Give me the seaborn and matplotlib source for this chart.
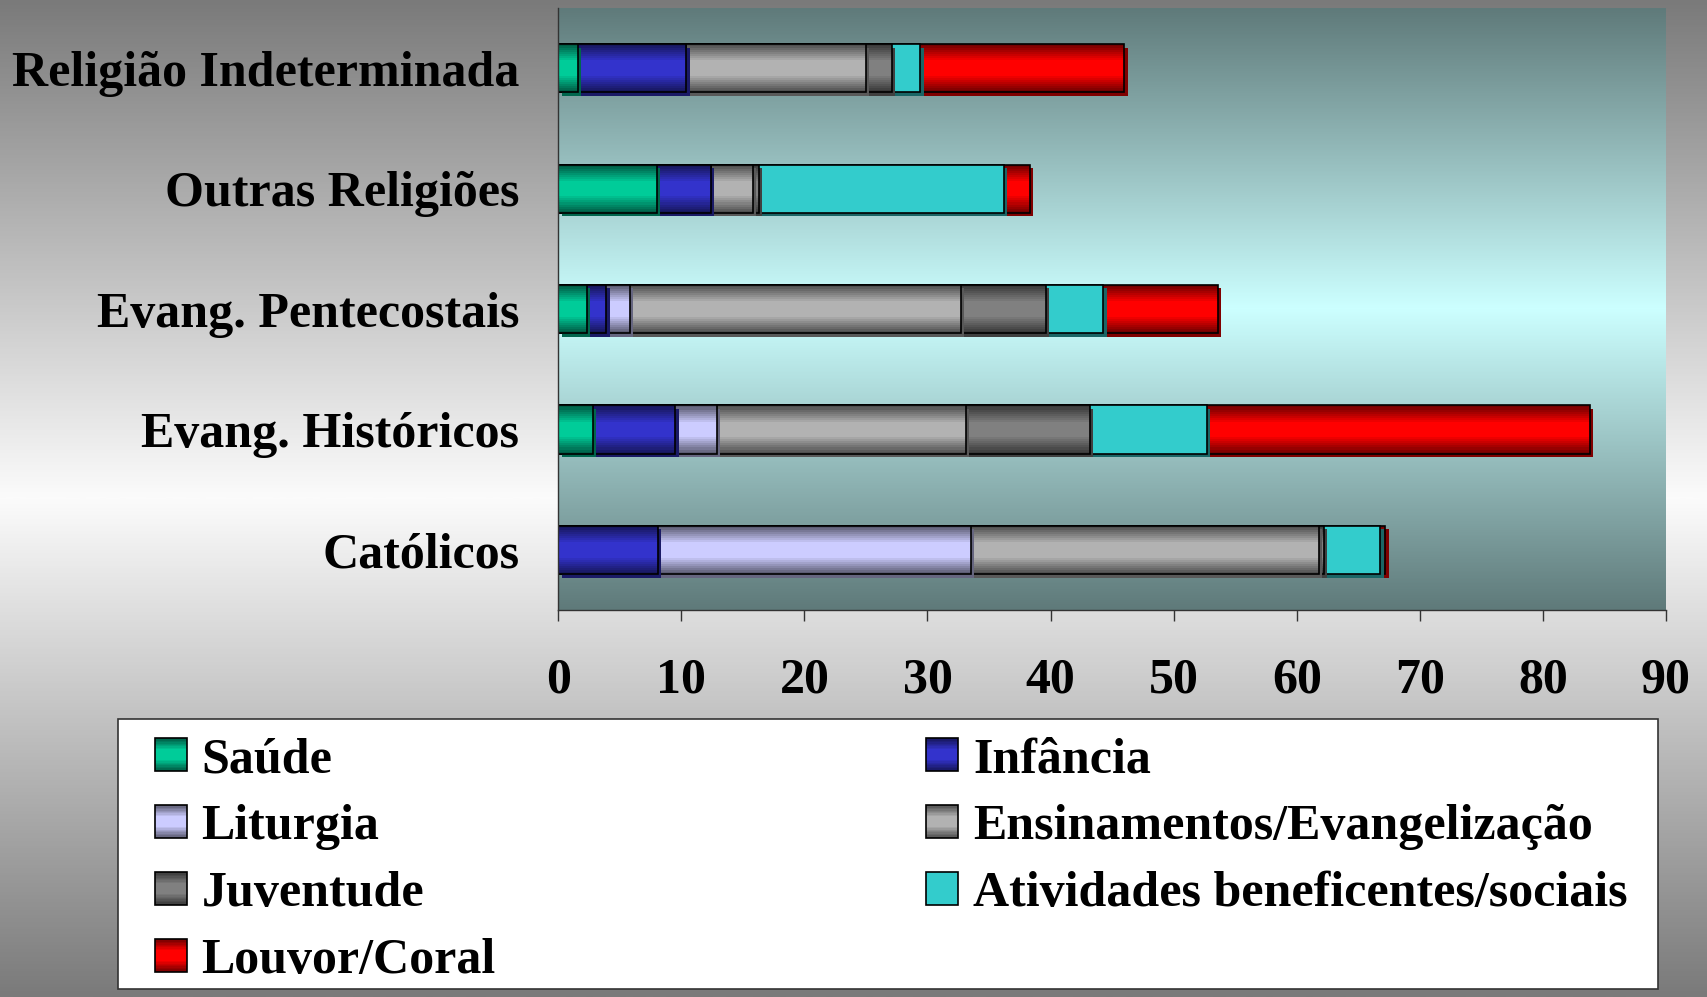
import numpy as np
import pandas as pd
import matplotlib
matplotlib.use("Agg")
import matplotlib.pyplot as plt
import seaborn as sns
from matplotlib.colors import LinearSegmentedColormap, to_rgb
from matplotlib.patches import Patch, Rectangle
from matplotlib.legend_handler import HandlerBase
import matplotlib.patheffects as pe

religioes = ["Religião Indeterminada", "Outras Religiões", "Evang. Pentecostais",
             "Evang. Históricos", "Católicos"]
atividades = ["Saúde", "Infância", "Liturgia", "Ensinamentos/Evangelização",
              "Juventude", "Atividades beneficentes/sociais", "Louvor/Coral"]

saude = [1.6, 8.0, 2.3, 2.8, 0.0]
infancia = [8.8, 4.4, 1.6, 6.7, 8.1]
liturgia = [0.0, 0.0, 1.9, 3.4, 25.4]
ensinamentos = [14.6, 3.4, 26.9, 20.2, 28.3]
juventude = [2.1, 0.5, 6.9, 10.1, 0.4]
beneficentes = [2.3, 19.9, 4.7, 9.5, 4.6]
louvor = [16.6, 2.1, 9.3, 31.1, 0.4]

x_ticks = [0, 10, 20, 30, 40, 50, 60, 70, 80, 90]

cores = ["#00cc99", "#3333cc", "#ccccff", "#b2b2b2", "#808080", "#33cccc", "#ff0000"]
shaded = [True, True, True, True, True, False, True]

sns.set_style("white")
plt.rcParams["font.family"] = ["Liberation Serif", "DejaVu Serif"]
plt.rcParams["font.weight"] = "bold"
plt.rcParams["text.color"] = "black"
plt.rcParams["xtick.color"] = "black"
plt.rcParams["ytick.color"] = "black"
FS = 36

df = pd.DataFrame({"Religião": religioes})
for nome, vals in zip(atividades, [saude, infancia, liturgia, ensinamentos,
                                   juventude, beneficentes, louvor]):
    df[nome] = vals
cum = df[atividades].cumsum(axis=1)

# cylinder-like shading: nested bars, dark outside -> bright centre
N_LEV = 9
lev_frac = np.linspace(1.0, 0.32, N_LEV)
lev_bright = np.linspace(0.45, 1.0, N_LEV)
BAR_W = 0.4


def tone(c, f):
    return tuple(np.array(to_rgb(c)) * f)


fig = plt.figure(figsize=(17.07, 9.97), dpi=100)

# figure background: gray -> white -> gray
bg = fig.add_axes([0, 0, 1, 1], zorder=-10)
bg.axis("off")
t = np.linspace(0, 1, 400)
prof = np.where(t < 0.5, t / 0.5, (1 - t) / 0.5)
bg.imshow(prof[:, None], aspect="auto", extent=[0, 1, 0, 1],
          cmap=LinearSegmentedColormap.from_list("fg", ["#7a7a7a", "#fbfbfb"]))

ax = fig.add_axes([0.327, 0.388, 0.649, 0.604])
ax.patch.set_alpha(0)

# stacked bars: cumulative totals drawn from the last series to the first
for i in reversed(range(len(atividades))):
    xs = cum[atividades[i]].values
    levels = range(N_LEV) if shaded[i] else [N_LEV - 1]
    for k in levels:
        n0 = len(ax.patches)
        fc = tone(cores[i], lev_bright[k]) if shaded[i] else cores[i]
        sns.barplot(x=xs, y=religioes, orient="h", color=fc, saturation=1,
                    width=BAR_W * (lev_frac[k] if shaded[i] else 1), ax=ax,
                    edgecolor="none", linewidth=0)
        if k == 0 or not shaded[i]:
            for p in ax.patches[n0:]:
                p.set_path_effects([pe.SimplePatchShadow(offset=(2.5, -2.5),
                                                         shadow_rgbFace=tone(cores[i], 0.5),
                                                         alpha=1.0),
                                    pe.Normal()])
    sns.barplot(x=xs, y=religioes, orient="h", fill=False, color="black",
                edgecolor="black", linewidth=1.2, width=BAR_W, ax=ax)

# plot area background gradient
tt = np.linspace(0, 1, 400)
prof2 = 1 - np.abs(tt - 0.5) * 2
ax.imshow(prof2[:, None], aspect="auto", extent=[0, 1, 0, 1],
          transform=ax.transAxes, zorder=0,
          cmap=LinearSegmentedColormap.from_list("pa", ["#5f7a7a", "#ccffff"]))

ax.set_xlim(0, 90)
ax.set_ylim(4.5, -0.5)
ax.set_xticks(x_ticks)
ax.set_xticklabels([str(v) for v in x_ticks], fontsize=FS, fontweight="bold")
ax.set_yticks(range(len(religioes)))
ax.set_yticklabels(religioes, fontsize=FS, fontweight="bold")
ax.set_xlabel("")
ax.set_ylabel("")
ax.tick_params(axis="x", direction="out", length=8, width=1, color="#333333",
               pad=26, bottom=True)
ax.tick_params(axis="y", length=0, pad=28)
for s in ["top", "right"]:
    ax.spines[s].set_visible(False)
for s in ["left", "bottom"]:
    ax.spines[s].set_color("#333333")
    ax.spines[s].set_linewidth(1)
    ax.spines[s].set_zorder(50)


class GradHandler(HandlerBase):
    def create_artists(self, legend, orig_handle, xdescent, ydescent,
                       width, height, fontsize, trans):
        c = orig_handle.get_facecolor()
        arts = []
        if orig_handle.get_gid() == "shade":
            for f, b in zip(lev_frac, lev_bright):
                h = height * f
                arts.append(Rectangle((-xdescent, -ydescent + (height - h) / 2), width, h,
                                      facecolor=tone(c[:3], b), edgecolor="none",
                                      transform=trans))
        else:
            arts.append(Rectangle((-xdescent, -ydescent), width, height,
                                  facecolor=c, edgecolor="none", transform=trans))
        arts.append(Rectangle((-xdescent, -ydescent), width, height, fill=False,
                              edgecolor="black", linewidth=1.2, transform=trans))
        return arts


# legend frame, then the entries in row-major order over two columns
fig.add_artist(Rectangle((117.6 / 1707, 1 - 988.5 / 997), 1540 / 1707, 270 / 997,
                         transform=fig.transFigure, facecolor="white",
                         edgecolor="#333333", linewidth=1.2, zorder=3))
order = [0, 2, 4, 6, 1, 3, 5]
handles = [Patch(facecolor=cores[k], gid="shade" if shaded[k] else "flat") for k in order]
labels = [atividades[k] for k in order]
leg = fig.legend(handles, labels, ncol=2, loc="upper left",
                 bbox_to_anchor=(154.5 / 1707, 1 - 737 / 997, (1627.6 - 154.5) / 1707, 0),
                 mode="expand", borderaxespad=0, frameon=False,
                 prop={"size": FS, "weight": "bold"},
                 handler_map={Patch: GradHandler()},
                 handlelength=0.64, handleheight=0.64, handletextpad=0.3,
                 labelspacing=0.42, borderpad=0)
leg.set_zorder(5)

fig.savefig("out.png", dpi=100)
